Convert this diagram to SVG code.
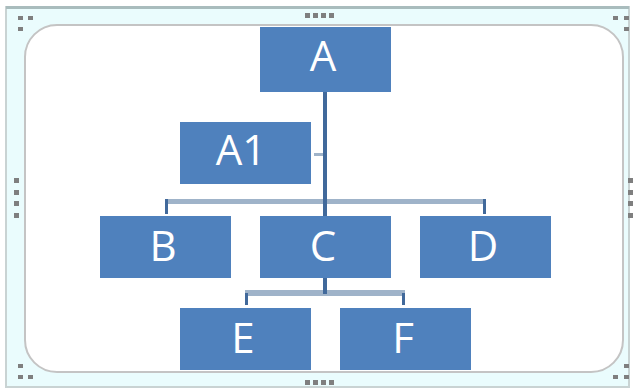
<svg xmlns="http://www.w3.org/2000/svg" width="634" height="389" viewBox="0 0 634 389">
<style>
.box{fill:#4f81bd}
.lbl{font-family:"Open Sans","Liberation Sans",Arial,sans-serif;font-size:42px;fill:#fff;text-anchor:middle}
.h{fill:#9fb3c9}
.v{fill:#41699b}
.hd{fill:#7f7f7f}
</style>
<rect x="0" y="0" width="634" height="389" fill="#fff"/>
<rect x="6" y="7" width="623" height="380" fill="#eafcfd" stroke="#c9d3d3" stroke-width="2"/>
<rect x="6" y="6" width="623" height="3" fill="#a9bcbd"/>
<rect x="25" y="25" width="598" height="347" rx="32" ry="32" fill="#fff" stroke="#c4c4c4" stroke-width="2"/>
<g id="handles">
<rect x="18" y="16" width="5" height="4" class="hd"/><rect x="28" y="16" width="5" height="4" class="hd"/><rect x="18" y="27" width="5" height="4" class="hd"/>
<rect x="613" y="16" width="5" height="4" class="hd"/><rect x="624" y="16" width="5" height="4" class="hd"/><rect x="624" y="27" width="5" height="4" class="hd"/>
<rect x="18" y="364" width="5" height="4" class="hd"/><rect x="18" y="375" width="5" height="4" class="hd"/><rect x="28" y="375" width="5" height="4" class="hd"/>
<rect x="613" y="375" width="5" height="4" class="hd"/><rect x="624" y="375" width="5" height="4" class="hd"/><rect x="624" y="364" width="5" height="4" class="hd"/>
<rect x="305" y="13" width="5" height="5" class="hd"/><rect x="313" y="13" width="5" height="5" class="hd"/><rect x="321" y="13" width="5" height="5" class="hd"/><rect x="329" y="13" width="5" height="5" class="hd"/>
<rect x="305" y="380" width="5" height="5" class="hd"/><rect x="313" y="380" width="5" height="5" class="hd"/><rect x="321" y="380" width="5" height="5" class="hd"/><rect x="329" y="380" width="5" height="5" class="hd"/>
<rect x="14" y="178" width="5" height="5" class="hd"/><rect x="14" y="190" width="5" height="5" class="hd"/><rect x="14" y="201" width="5" height="5" class="hd"/><rect x="14" y="213" width="5" height="5" class="hd"/>
<rect x="628" y="178" width="5" height="5" class="hd"/><rect x="628" y="190" width="5" height="5" class="hd"/><rect x="628" y="201" width="5" height="5" class="hd"/><rect x="628" y="213" width="5" height="5" class="hd"/>
</g>
<g id="connectors">
<rect x="165" y="199" width="321" height="5" class="h"/>
<rect x="323" y="92" width="4" height="124" class="v"/>
<rect x="314" y="153" width="9" height="3" class="h"/>
<rect x="165" y="199" width="3" height="15" class="v"/>
<rect x="483" y="199" width="3" height="15" class="v"/>
<rect x="245" y="290" width="160" height="6" class="h"/>
<rect x="323" y="278" width="4" height="16" class="v"/>
<rect x="245" y="293" width="3" height="12" class="v"/>
<rect x="402" y="293" width="3" height="12" class="v"/>
</g>
<g id="A"><rect class="box" x="260" y="27" width="131" height="65"/><text class="lbl" x="323" y="71">A</text></g>
<g id="A1"><rect class="box" x="180" y="122" width="131" height="62"/><text class="lbl" x="241" y="165">A1</text></g>
<g id="B"><rect class="box" x="100" y="216" width="131" height="62"/><text class="lbl" x="163" y="261">B</text></g>
<g id="C"><rect class="box" x="260" y="216" width="131" height="62"/><text class="lbl" x="323" y="261">C</text></g>
<g id="D"><rect class="box" x="420" y="216" width="131" height="62"/><text class="lbl" x="483" y="261">D</text></g>
<g id="E"><rect class="box" x="180" y="308" width="131" height="62"/><text class="lbl" x="243" y="353">E</text></g>
<g id="F"><rect class="box" x="340" y="308" width="131" height="62"/><text class="lbl" x="403" y="353">F</text></g>
</svg>
